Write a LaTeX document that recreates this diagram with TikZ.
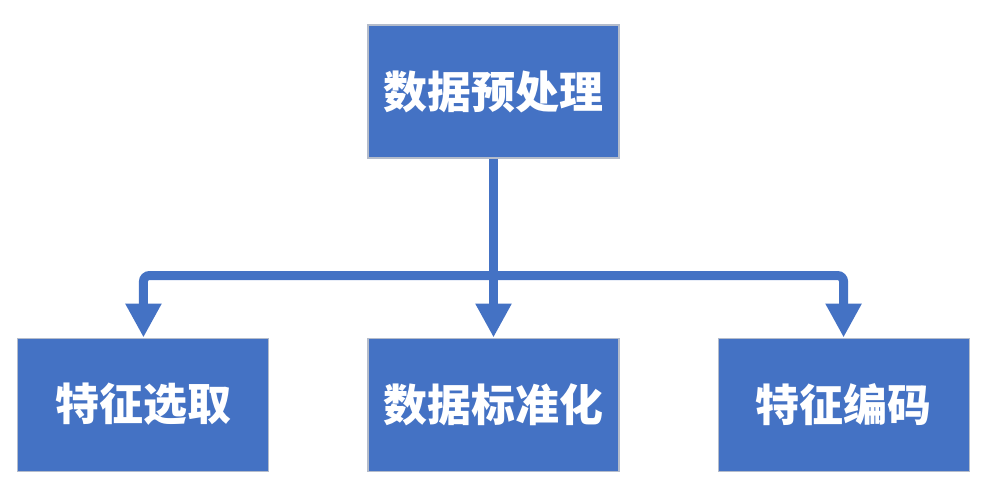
\documentclass[tikz,border=0pt]{standalone}
\usepackage{fontspec}
\usepackage{tikz}
\usetikzlibrary{arrows.meta, positioning, calc}
\newfontfamily\cjk{Noto Sans CJK SC}
\definecolor{boxblue}{HTML}{4472C4}
\definecolor{edgegray}{HTML}{B4BCCB}

\begin{document}
\begin{tikzpicture}[
        font=\cjk\bfseries\fontsize{25}{30}\selectfont,
        stage/.style={draw=edgegray, line width=0.6pt, fill=boxblue, text=white, minimum width=5.02cm, minimum height=2.66cm, inner sep=0pt},
        arr/.style={-{Triangle[length=0.68cm, width=0.68cm]}, line width=0.18cm, draw=boxblue, rounded corners=0.12cm},
        node distance=3.58cm and 1.96cm,
    ]
        \useasboundingbox (0,0) rectangle (19.84,9.92);

        % --- top: preprocessing ---
        \node[stage] (pre) at (9.87,8.09) {数据预处理};

        % --- bottom row ---
        \node[stage, below=of pre] (std) {数据标准化};
        \node[stage, left=of std] (sel) {特征选取};
        \node[stage, right=of std] (enc) {特征编码};

        % --- bus under the top box ---
        \coordinate (bus) at ($(pre.south)+(0,-2.34)$);

        \draw[arr] (pre.south) -- (std.north);
        \draw[arr] (bus) -| (sel.north);
        \draw[arr] (bus) -| (enc.north);
    \end{tikzpicture}
\end{document}
